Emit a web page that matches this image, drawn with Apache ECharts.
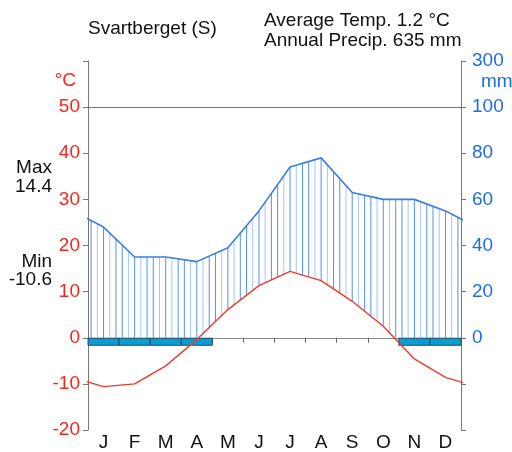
<!DOCTYPE html>
<html>
<head>
<meta charset="utf-8">
<script src="https://cdn.jsdelivr.net/npm/echarts@6/dist/echarts.min.js"></script>
<style>
  html, body { margin: 0; padding: 0; background: #fff; }
  #chart { width: 512px; height: 452px; }
</style>
</head>
<body>
<div id="chart"></div>
<script>
// Climate diagram (Walter–Lieth style) for Svartberget
const months = ['J', 'F', 'M', 'A', 'M', 'J', 'J', 'A', 'S', 'O', 'N', 'D'];
const tempC = [-10.6, -10.0, -6.1, -0.4, 6.1, 11.3, 14.4, 12.4, 7.9, 2.5, -4.6, -8.6];
const precipMm = [48, 35, 35, 33, 39, 55, 74, 78, 63, 60, 60, 55];
const frostMonths = [1, 1, 1, 1, 0, 0, 0, 0, 0, 0, 1, 1];
const tempTickLabels = { '50': '50', '40': '40', '30': '30', '20': '20', '10': '10', '0': '0', '-10': '-10', '-20': '-20' };
const precipTickLabels = { '60': '300', '50': '100', '40': '80', '30': '60', '20': '40', '10': '20', '0': '0' };
const headerTitle = 'Svartberget (S)';
const headerStats = ['Average Temp. 1.2 °C', 'Annual Precip. 635 mm'];
const extremes = ['Max', '14.4', 'Min', '-10.6'];

const FONT = '"Liberation Sans", Arial, sans-serif';
const RED = '#f5261b';
const BLUE = '#1f6fe0';

// Precipitation shares the temperature axis: 20 mm = 10 °C up to 100 mm,
// compressed above that (100..300 mm -> 50..60).
function precipToAxis(p) {
  return p <= 100 ? p / 2 : 50 + (p - 100) / 20;
}

// Month centres sit at i + 0.5; the curves wrap Dec -> Jan past the frame and are clipped.
function wrapSeries(values) {
  const pts = [[-0.5, values[11]]];
  values.forEach((v, i) => pts.push([i + 0.5, v]));
  pts.push([12.5, values[0]]);
  return pts;
}
const tempPts = wrapSeries(tempC);
const precipPts = wrapSeries(precipMm.map(precipToAxis));

function valueAt(pts, x) {
  for (let i = 0; i < pts.length - 1; i++) {
    const a = pts[i], b = pts[i + 1];
    if (x >= a[0] && x <= b[0]) {
      return a[1] + (b[1] - a[1]) * (x - a[0]) / (b[0] - a[0]);
    }
  }
  return pts[pts.length - 1][1];
}

const HATCH_PER_MONTH = 5;

function label(text, x, y, opts) {
  return {
    type: 'text', x: x, y: y, silent: true,
    style: Object.assign({
      text: text, font: '19px ' + FONT, fill: '#111',
      align: 'left', verticalAlign: 'middle'
    }, opts || {})
  };
}

const chart = echarts.init(document.getElementById('chart'), null, { renderer: 'canvas' });

chart.setOption({
  animation: false,
  textStyle: { fontFamily: FONT },
  grid: { left: 88, right: 51, top: 61, bottom: 19, containLabel: false },
  xAxis: [
    { type: 'value', min: 0, max: 12, show: false },
    {
      type: 'category', data: months, boundaryGap: true, position: 'bottom',
      axisLine: { show: false }, axisTick: { show: false },
      axisLabel: { color: '#111', fontSize: 19, margin: 3, fontFamily: FONT }
    },
    {
      type: 'category', data: months, boundaryGap: true, position: 'bottom',
      axisLine: { show: true, onZero: true, onZeroAxisIndex: 0, lineStyle: { color: '#888', width: 1 } },
      axisTick: { show: true, length: 5, lineStyle: { color: '#666' } },
      axisLabel: { show: false }
    }
  ],
  yAxis: [
    {
      type: 'value', min: -20, max: 60, interval: 10, position: 'left',
      splitLine: { show: false },
      axisLine: { show: true, lineStyle: { color: '#777', width: 1 } },
      axisTick: { show: true, length: 5, lineStyle: { color: '#777' } },
      axisLabel: {
        color: RED, fontSize: 19, margin: 8, fontFamily: FONT,
        formatter: v => tempTickLabels[String(v)] || ''
      }
    },
    {
      type: 'value', min: -20, max: 60, interval: 10, position: 'right',
      splitLine: { show: false },
      axisLine: { show: true, lineStyle: { color: '#777', width: 1 } },
      axisTick: { show: true, length: 5, lineStyle: { color: '#777' } },
      axisLabel: {
        color: BLUE, fontSize: 19, margin: 11, fontFamily: FONT,
        formatter: v => precipTickLabels[String(v)] || ''
      }
    }
  ],
  series: [
    {
      // humid-period hatching between the zero/temperature curve and precipitation
      type: 'custom',
      xAxisIndex: 0, yAxisIndex: 0,
      data: months.map((m, i) => [i]),
      clip: true,
      silent: true,
      z: 2,
      renderItem: function (params, api) {
        const i = api.value(0);
        const children = [];
        for (let k = 0; k < HATCH_PER_MONTH; k++) {
          const x = i + (k + 0.5) / HATCH_PER_MONTH;
          const top = valueAt(precipPts, x);
          const bottom = Math.max(valueAt(tempPts, x), 0);
          if (top <= bottom) continue;
          const p1 = api.coord([x, bottom]);
          const p2 = api.coord([x, top]);
          children.push({
            type: 'line',
            shape: { x1: p1[0], y1: p1[1], x2: p2[0], y2: p2[1] },
            style: { stroke: k % 2 === 0 ? '#5592e3' : '#a6c6f1', lineWidth: 1 }
          });
        }
        return { type: 'group', children: children };
      }
    },
    {
      // frost months strip under the zero line
      type: 'custom',
      xAxisIndex: 0, yAxisIndex: 0,
      data: frostMonths.map((f, i) => [i, f]).filter(d => d[1] === 1),
      silent: true,
      z: 4,
      renderItem: function (params, api) {
        const i = api.value(0);
        const a = api.coord([i, 0]);
        const b = api.coord([i + 1, 0]);
        return {
          type: 'rect',
          shape: { x: a[0], y: a[1] + 0.5, width: b[0] - a[0], height: 7 },
          style: { fill: '#0a9dd2', stroke: '#1e4e66', lineWidth: 1 }
        };
      }
    },
    {
      name: 'Precipitation',
      type: 'line',
      xAxisIndex: 0, yAxisIndex: 0,
      data: precipPts,
      clip: true,
      showSymbol: false,
      silent: true,
      z: 5,
      lineStyle: { color: '#3c7fdc', width: 1.6 }
    },
    {
      name: 'Temperature',
      type: 'line',
      xAxisIndex: 0, yAxisIndex: 0,
      data: tempPts,
      clip: true,
      showSymbol: false,
      silent: true,
      z: 6,
      lineStyle: { color: '#ee3b2b', width: 1.4 },
      markLine: {
        silent: true,
        symbol: 'none',
        label: { show: false },
        lineStyle: { color: '#777', width: 1, type: 'solid' },
        data: [{ yAxis: 50 }]
      }
    }
  ],
  graphic: [
    label(headerTitle, 88, 29),
    label(headerStats[0], 264, 21),
    label(headerStats[1], 264, 40.5),
    label('°C', 76, 80.5, { fill: RED, align: 'right' }),
    label('mm', 481, 81.5, { fill: BLUE }),
    label(extremes[0], 52, 168, { align: 'right' }),
    label(extremes[1], 52, 186.5, { align: 'right' }),
    label(extremes[2], 52, 261.5, { align: 'right' }),
    label(extremes[3], 52, 280, { align: 'right' })
  ]
});
</script>
</body>
</html>
